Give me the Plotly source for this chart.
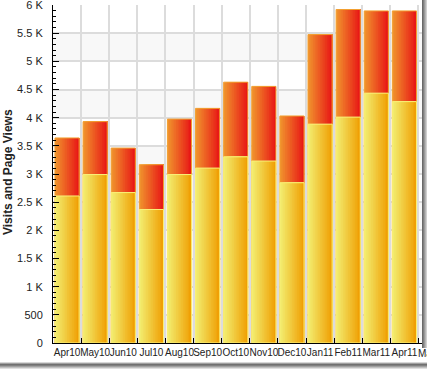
import plotly.graph_objects as go

months = ["Apr10", "May10", "Jun10", "Jul10", "Aug10", "Sep10", "Oct10",
          "Nov10", "Dec10", "Jan11", "Feb11", "Mar11", "Apr11"]
page_views = [3640, 3930, 3460, 3165, 3975, 4165, 4630, 4555, 4030, 5475, 5920, 5895, 5895]
visits = [2610, 2990, 2670, 2370, 2990, 3105, 3305, 3230, 2845, 3885, 4010, 4435, 4285]
extra_label = "May11"
y_tick_vals = [0, 500, 1000, 1500, 2000, 2500, 3000, 3500, 4000, 4500, 5000, 5500, 6000]
y_tick_text = ["0", "500", "1 K", "1.5 K", "2 K", "2.5 K", "3 K", "3.5 K", "4 K",
               "4.5 K", "5 K", "5.5 K", "6 K"]

W, H = 427, 369
ML, MR, MT, MB = 53, 5, 5, 26
PW, PH = W - ML - MR, H - MT - MB


def px2paper_x(px):
    return (px - ML) / PW


def px2paper_y(py):
    return 1 - (py - MT) / PH


def lerp(c1, c2, t):
    return tuple(round(a + (b - a) * t) for a, b in zip(c1, c2))


def rgb(c):
    return "rgb(%d,%d,%d)" % c


BAR_W = 0.86
N = 14
fig = go.Figure()


def gradient_bars(values, left, right, border, name):
    for i in range(N):
        t = i / (N - 1)
        off = -BAR_W / 2 + i * BAR_W / N
        fig.add_trace(go.Bar(
            x=months, y=values, width=BAR_W - i * BAR_W / N, offset=off,
            marker=dict(color=rgb(lerp(left, right, t)), line=dict(width=0)),
            showlegend=False, hoverinfo="skip", name=name))
    fig.add_trace(go.Bar(
        x=months, y=values, width=BAR_W, offset=-BAR_W / 2,
        marker=dict(color="rgba(0,0,0,0)", line=dict(width=1, color=border)),
        showlegend=False, name=name))


gradient_bars(page_views, (240, 145, 45), (232, 25, 22), "rgb(242,160,50)", "Page Views")
gradient_bars(visits, (242, 236, 110), (240, 160, 5), "rgb(250,240,120)", "Visits")

shapes = []
for k in range(6):
    shapes.append(dict(type="rect", xref="paper", yref="y", x0=0, x1=1,
                       y0=k * 1000, y1=k * 1000 + 500, layer="below",
                       fillcolor="#f8f8f8", line=dict(width=0)))
# frame shadow (right and bottom edges)
shadow_cols = ["#6a6a6a", "#808080", "#9a9a9a", "#b5b5b5", "#d0d0d0"]
for i, c in enumerate(shadow_cols):
    shapes.append(dict(type="rect", xref="paper", yref="paper",
                       x0=px2paper_x(422 + i), x1=px2paper_x(423 + i),
                       y0=px2paper_y(348), y1=px2paper_y(0),
                       fillcolor=c, line=dict(width=0), layer="above"))
bshadow = ["#d8d8d8", "#a0a0a0", "#707070", "#808080", "#a0a0a0", "#c0c0c0", "#e0e0e0"]
for i, c in enumerate(bshadow):
    shapes.append(dict(type="rect", xref="paper", yref="paper",
                       x0=px2paper_x(0), x1=px2paper_x(427),
                       y0=px2paper_y(363 + i), y1=px2paper_y(362 + i),
                       fillcolor=c, line=dict(width=0), layer="above"))

fig.update_layout(
    width=W, height=H,
    margin=dict(l=ML, r=MR, t=MT, b=MB, autoexpand=False),
    barmode="overlay",
    paper_bgcolor="white", plot_bgcolor="white",
    font=dict(family="Liberation Sans, Arial, sans-serif", size=11, color="#222"),
    shapes=shapes,
    xaxis=dict(
        type="category", range=[-0.5, 12.625], tickson="boundaries",
        showgrid=True, gridcolor="#dcdcdc", gridwidth=2,
        ticks="inside", ticklen=5, tickcolor="black", tickangle=0,
        showline=True, linecolor="black", linewidth=1, automargin=False,
        tickfont=dict(size=10, color="#222"), fixedrange=True),
    yaxis=dict(
        range=[0, 6000], tickvals=y_tick_vals, ticktext=y_tick_text,
        showgrid=True, gridcolor="#dcdcdc", gridwidth=2, zeroline=False,
        ticks="inside", ticklen=6, tickcolor="black",
        minor=dict(dtick=100, ticks="inside", ticklen=3, tickcolor="black", showgrid=False),
        showline=True, linecolor="black", linewidth=1, automargin=False,
        ticklabelstandoff=7, ticklabeloverflow="allow",
        tickfont=dict(size=11, color="#222"), fixedrange=True),
    annotations=[
        dict(text="<b>Visits and Page Views</b>", textangle=-90, xref="paper", yref="paper",
             x=px2paper_x(8), y=px2paper_y(172), xanchor="center", yanchor="middle",
             showarrow=False, font=dict(size=12, color="#222")),
        dict(text=extra_label, xref="paper", yref="paper",
             x=px2paper_x(433), y=px2paper_y(353), xanchor="center", yanchor="middle",
             showarrow=False, font=dict(size=10, color="#222")),
    ],
)

fig.write_html("out.html", config={"displayModeBar": False},
               post_script="document.body.style.margin='0';document.body.style.overflow='hidden';")
